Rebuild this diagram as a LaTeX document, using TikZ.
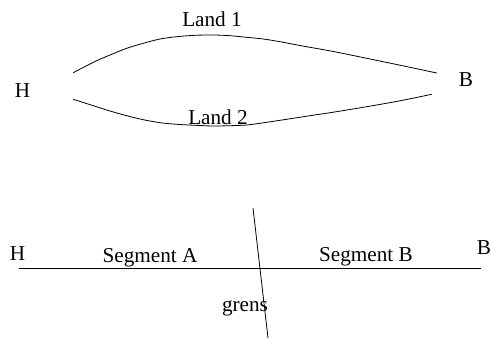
\documentclass[tikz,border=0pt]{standalone}
\usepackage{fontspec}
\setmainfont{Liberation Serif}
\begin{document}
\begin{tikzpicture}[x=1pt,y=-1pt,
  lbl/.style={inner sep=0pt,anchor=base,font=\fontsize{21.2}{24}\selectfont},
  ln/.style={line width=0.8pt}]
\useasboundingbox (0,0) rectangle (492,340);
% top part
\node[lbl] (h1) at (22.5,97) {H};
\node[lbl] (b1) at (466,86) {B};
\node[lbl] (land1) at (212,27) {Land 1};
\node[lbl] (land2) at (218,124) {Land 2};
\draw[ln] plot[smooth,tension=0.5] coordinates {(73.3,72.7) (93.3,62.3) (110,55) (126.7,48.3) (143.3,43.3) (160,39) (176.7,36.7) (195,35.3) (213.3,35) (230,35.7) (246.7,37.3) (263.3,39) (280,41.7) (300,45.5) (333.3,51.5) (366.7,58.3) (400,65.2) (436.7,73)};
\draw[ln] plot[smooth,tension=0.5] coordinates {(73.3,99.3) (93.3,105.7) (110,111) (126.7,115.7) (143.3,119.7) (160,122.7) (176.7,124.3) (195,125.3) (213.3,126) (230,125.7) (246.7,125) (263.3,122.8) (280,120.3) (310,115.7) (333.3,112.2) (366.7,106.7) (400,100.8) (431.7,94.3)};
% bottom part
\node[lbl] (h2) at (17.5,260) {H};
\node[lbl] (b2) at (484,254) {B};
\node[lbl] (sa) at (150,262) {Segment A};
\node[lbl] (sb) at (366,261) {Segment B};
\node[lbl] (grens) at (245,311) {grens};
\coordinate (l0) at (19,268.3);
\coordinate (l1) at (481,268.3);
\coordinate (g0) at (253,208);
\coordinate (g1) at (268,338);
\draw[ln] (l0) -- (l1);
\draw[ln] (g0) -- (g1);
\end{tikzpicture}
\end{document}
